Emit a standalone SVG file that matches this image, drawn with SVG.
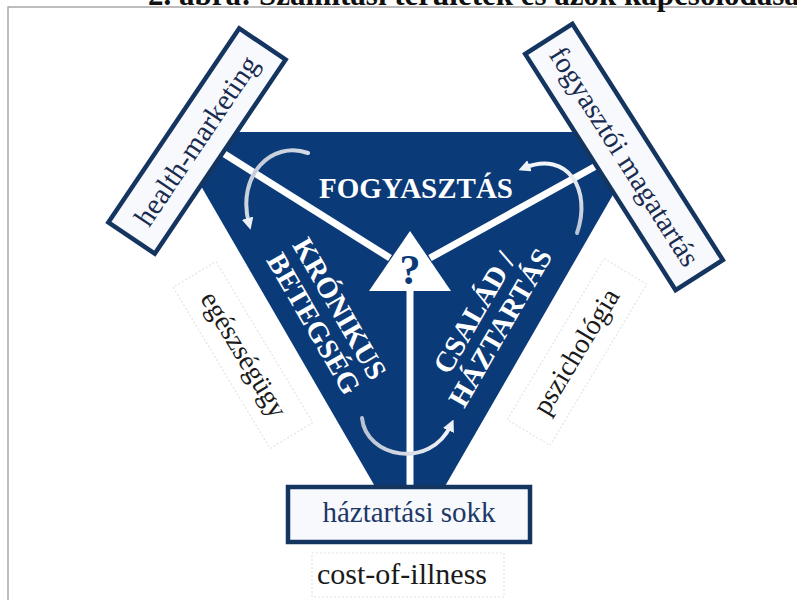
<svg xmlns="http://www.w3.org/2000/svg" width="797" height="600" viewBox="0 0 797 600">
<defs>
<style>
.frame{fill:none;stroke:#a8a8a8;stroke-width:1.5}
.title{font-family:"Liberation Serif",serif;font-weight:bold;font-size:31px;fill:#111}
.navy{fill:#0b3a78}
.box{fill:#f7f9fc;stroke:#14355f;stroke-width:4.5}
.faint{fill:#fff;stroke:#e4e4e4;stroke-width:1.2;stroke-dasharray:2 2}
.boxtxt{font-family:"Liberation Serif",serif;font-size:29px;fill:#1a2b50;text-anchor:middle}
.side{font-family:"Liberation Serif",serif;font-size:28px;fill:#1a1a1a;text-anchor:middle}
.inner{font-family:"Liberation Serif",serif;font-weight:bold;font-size:29px;fill:#fff;text-anchor:middle}
.divider{stroke:#fff;stroke-width:7;fill:none}
.curve{fill:none;stroke-width:4;stroke-linecap:round}
</style>
<linearGradient id="g1" x1="0" y1="0" x2="1" y2="1"><stop offset="0" stop-color="#b9c3d2"/><stop offset="1" stop-color="#f2f5f9"/></linearGradient>
<linearGradient id="g2" x1="0" y1="1" x2="0" y2="0"><stop offset="0" stop-color="#b9c3d2"/><stop offset="1" stop-color="#f2f5f9"/></linearGradient>
<linearGradient id="g3" x1="0" y1="0" x2="1" y2="0"><stop offset="0" stop-color="#b9c3d2"/><stop offset="1" stop-color="#f2f5f9"/></linearGradient>
<marker id="ah" viewBox="0 0 10 10" refX="5" refY="5" markerWidth="3" markerHeight="3" orient="auto" markerUnits="strokeWidth">
<path d="M0,0 L10,5 L0,10 z" fill="#eef1f6"/>
</marker>
</defs>
<rect width="797" height="600" fill="#fff"/>
<g id="frame"><path class="frame" d="M8,600 V7 H797"/></g>
<g id="title"><text class="title" x="148" y="5">2. ábra: Számítási területek és azok kapcsolódásai</text></g>

<g id="triangle">
<polygon class="navy" points="232,132 578,132 618,186 414,540 406,540 201,186"/>
</g>

<g id="connectors">
<line class="divider" x1="215" y1="148" x2="390" y2="258"/>
<line class="divider" x1="605" y1="161" x2="430" y2="258"/>
<line class="divider" x1="410" y1="291" x2="410" y2="488"/>
<path class="curve" stroke="url(#g1)" d="M308,153 C272,140 236,175 249,224" marker-end="url(#ah)"/>
<path class="curve" stroke="url(#g2)" d="M577,233 C592,190 568,150 524,168" marker-end="url(#ah)"/>
<path class="curve" stroke="url(#g3)" d="M362,418 C366,458 430,470 451,425" marker-end="url(#ah)"/>
</g>

<g id="center">
<polygon points="410,231 369,291 451,291" fill="#fff"/>
<text x="410" y="284" font-family="Liberation Serif,serif" font-weight="bold" font-size="42" fill="#0b3a78" text-anchor="middle">?</text>
</g>

<g id="fogyasztas">
<text class="inner" x="416" y="198">FOGYASZTÁS</text>
</g>

<g id="kronikus" transform="translate(327,316) rotate(60)">
<text class="inner" x="0" y="-5">KRÓNIKUS</text>
<text class="inner" x="0" y="25">BETEGSÉG</text>
</g>

<g id="csalad" transform="translate(487,320) rotate(-60)">
<text class="inner" x="0" y="-5">CSALÁD /</text>
<text class="inner" x="0" y="25">HÁZTARTÁS</text>
</g>

<g id="health-marketing" transform="translate(197,141) rotate(-56)">
<rect class="box" x="-117" y="-28" width="234" height="56"/>
<text class="boxtxt" x="0" y="9">health-marketing</text>
</g>

<g id="fogyasztoi-magatartas" transform="translate(624,157) rotate(57.5)">
<rect class="box" x="-140" y="-28" width="280" height="56"/>
<text class="boxtxt" x="0" y="9">fogyasztói magatartás</text>
</g>

<g id="egeszsegugy" transform="translate(243,355) rotate(59)">
<rect class="faint" x="-94" y="-25" width="188" height="50"/>
<text class="side" x="0" y="8">egészségügy</text>
</g>

<g id="pszichologia" transform="translate(577,352) rotate(-59)">
<rect class="faint" x="-94" y="-25" width="188" height="50"/>
<text class="side" x="0" y="8">pszichológia</text>
</g>

<g id="haztartasi-sokk">
<rect class="box" x="288" y="487" width="242" height="55"/>
<text class="boxtxt" x="409" y="522" style="fill:#1d3766">háztartási sokk</text>
</g>

<g id="cost-of-illness">
<rect class="faint" x="312" y="553" width="192" height="44"/>
<text class="side" x="402" y="584" style="font-size:30px">cost-of-illness</text>
</g>
</svg>
